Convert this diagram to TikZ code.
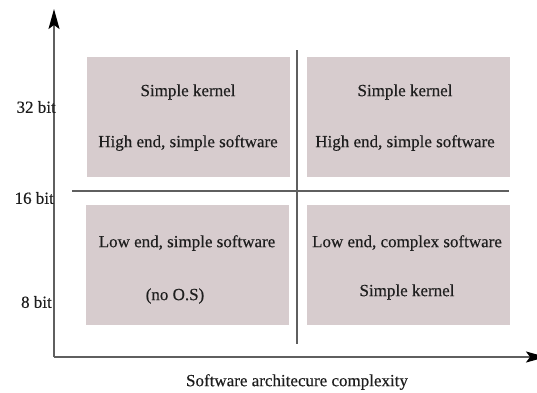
\documentclass[tikz,border=0pt]{standalone}
\usepackage{fontspec}
\setmainfont[FakeBold=0.4]{Liberation Serif}
\usetikzlibrary{arrows.meta}
\definecolor{boxfill}{RGB}{215,204,206}
\definecolor{linegray}{RGB}{95,95,95}
\definecolor{txt}{RGB}{30,30,30}
\begin{document}
\begin{tikzpicture}[x=1pt,y=-1pt,
  quad/.style={fill=boxfill,draw=none,minimum width=203pt,minimum height=120pt,inner sep=0pt},
  lbl/.style={font=\fontsize{17}{19}\selectfont,text=txt,inner sep=0pt},
  divider/.style={draw=linegray,line width=1.4pt},
  axis/.style={draw=linegray,line width=1.6pt,-{Stealth[length=20pt,width=11pt,inset=4pt,color=black]}}]
\useasboundingbox (0,0) rectangle (537,392);
% quadrants
\node[quad] (tl) at (188.5,117) {};
\node[quad] (tr) at (408,117) {};
\node[quad] (bl) at (187.5,265) {};
\node[quad] (br) at (408,265) {};
% dividers
\coordinate (hl) at (72,191);
\coordinate (hr) at (509,191);
\coordinate (vt) at (297,50);
\coordinate (vb) at (297,344);
\draw[divider] (hl) -- (hr);
\draw[divider] (vt) -- (vb);
% axes
\coordinate (origin) at (54,357);
\coordinate (ytip) at (54,9);
\coordinate (xtip) at (546,357);
\draw[axis] (origin) -- (ytip);
\draw[axis] (origin) -- (xtip);
% texts
\node[lbl] (t1) at (188,92) {Simple kernel};
\node[lbl] (t2) at (188,143) {High end, simple software};
\node[lbl] (t3) at (405,92) {Simple kernel};
\node[lbl] (t4) at (405,143) {High end, simple software};
\node[lbl] (t5) at (187,243) {Low end, simple software};
\node[lbl] (t6) at (175,296) {(no O.S)};
\node[lbl] (t7) at (407,243) {Low end, complex software};
\node[lbl] (t8) at (407,292) {Simple kernel};
\node[lbl,anchor=east] (y32) at (56,107) {32 bit};
\node[lbl,anchor=east] (y16) at (54,198) {16 bit};
\node[lbl,anchor=east] (y8) at (52,302) {8 bit};
\node[lbl] (xl) at (297,382) {Software architecure complexity};
\end{tikzpicture}
\end{document}
